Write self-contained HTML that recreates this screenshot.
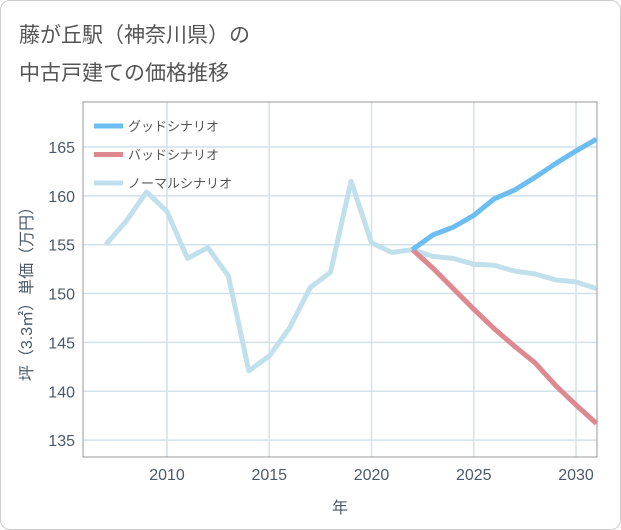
<!DOCTYPE html>
<html><head><meta charset="utf-8"><style>
body{margin:0;background:#fff;font-family:"Liberation Sans","Noto Sans CJK JP",sans-serif;}
#wrap{position:relative;width:619px;height:528px;border:1px solid #ccc;border-radius:10px;overflow:hidden;}
.t{position:absolute;left:18px;font-size:21px;color:#555;}
</style></head><body>
<div id="wrap">
<div class="t" style="top:18px">藤が丘駅（神奈川県）の</div>
<div class="t" style="top:56px">中古戸建ての価格推移</div>
<svg id="svg" width="621" height="530" style="position:absolute;left:-1px;top:-1px"></svg>
</div>
<script>
const years=[2007,2008,2009,2010,2011,2012,2013,2014,2015,2016,2017,2018,2019,2020,2021,2022,2023,2024,2025,2026,2027,2028,2029,2030,2031];
const normal=[155.0,157.4,160.4,158.4,153.6,154.7,151.8,142.1,143.6,146.5,150.6,152.2,161.5,155.2,154.2,154.5,153.8,153.6,153.0,152.9,152.3,152.0,151.4,151.2,150.5];
const goodYears=[2022,2023,2024,2025,2026,2027,2028,2029,2030,2031];
const good=[154.5,156.0,156.8,158.0,159.7,160.6,161.9,163.3,164.6,165.8];
const bad=[154.5,152.6,150.5,148.4,146.4,144.6,142.9,140.6,138.6,136.7];
const xTicks=[2010,2015,2020,2025,2030];
const yTicks=[135,140,145,150,155,160,165];
const NS="http://www.w3.org/2000/svg";
const svg=document.getElementById('svg');
const L=83,R=597,T=102,B=457;
const x=v=>167+(v-2010)*20.45;
const y=v=>147+(165-v)*9.77;
function mk(tag,attrs){const e=document.createElementNS(NS,tag);for(const k in attrs)e.setAttribute(k,attrs[k]);svg.appendChild(e);return e;}
xTicks.forEach(t=>{
const g=mk('line',{x1:x(t),x2:x(t),y1:T,y2:B,stroke:'#d3e1ea','stroke-width':1.5});


const l=mk('text',{x:x(t),y:B+23,'text-anchor':'middle','font-size':16,fill:'#4a5a6a'});
l.textContent=t;


});
yTicks.forEach(t=>{
const g=mk('line',{x1:L,x2:R,y1:y(t),y2:y(t),stroke:'#d3e1ea','stroke-width':1.5});


const l=mk('text',{x:L-8,y:y(t)+6,'text-anchor':'end','font-size':16,fill:'#4a5a6a'});
l.textContent=t;


});
const fr=mk('rect',{x:L,y:T,width:R-L,height:B-T,fill:'none',stroke:'#999','stroke-width':1});


function line(xs,vs,color,name){
const p=mk('polyline',{points:xs.map((yr,i)=>x(yr)+','+y(vs[i])).join(' '),fill:'none',stroke:color,'stroke-width':5,'stroke-linejoin':'round'});


}
line(years,normal,'#c0e0ec','normal-scenario-line');
line(goodYears,bad,'#de8890','bad-scenario-line');
line(goodYears,good,'#6bbdf2','good-scenario-line');
const leg=[['グッドシナリオ','#6bbdf2'],['バッドシナリオ','#de8890'],['ノーマルシナリオ','#c0e0ec']];
leg.forEach((e,i)=>{
const ly=126+i*28.5;
const s=mk('line',{x1:94,x2:123,y1:ly,y2:ly,stroke:e[1],'stroke-width':5});


const t=mk('text',{x:128,y:ly+5,'font-size':13,fill:'#555'});
t.textContent=e[0];


});
const xt=mk('text',{x:340,y:513,'text-anchor':'middle','font-size':16,fill:'#4a5a6a'});
xt.textContent='年';


const yt=mk('text',{x:0,y:0,'text-anchor':'middle','font-size':16,fill:'#4a5a6a',transform:'translate(32,290) rotate(-90)'});
yt.textContent='坪（3.3㎡）単価（万円）';


</script>
</body></html>
